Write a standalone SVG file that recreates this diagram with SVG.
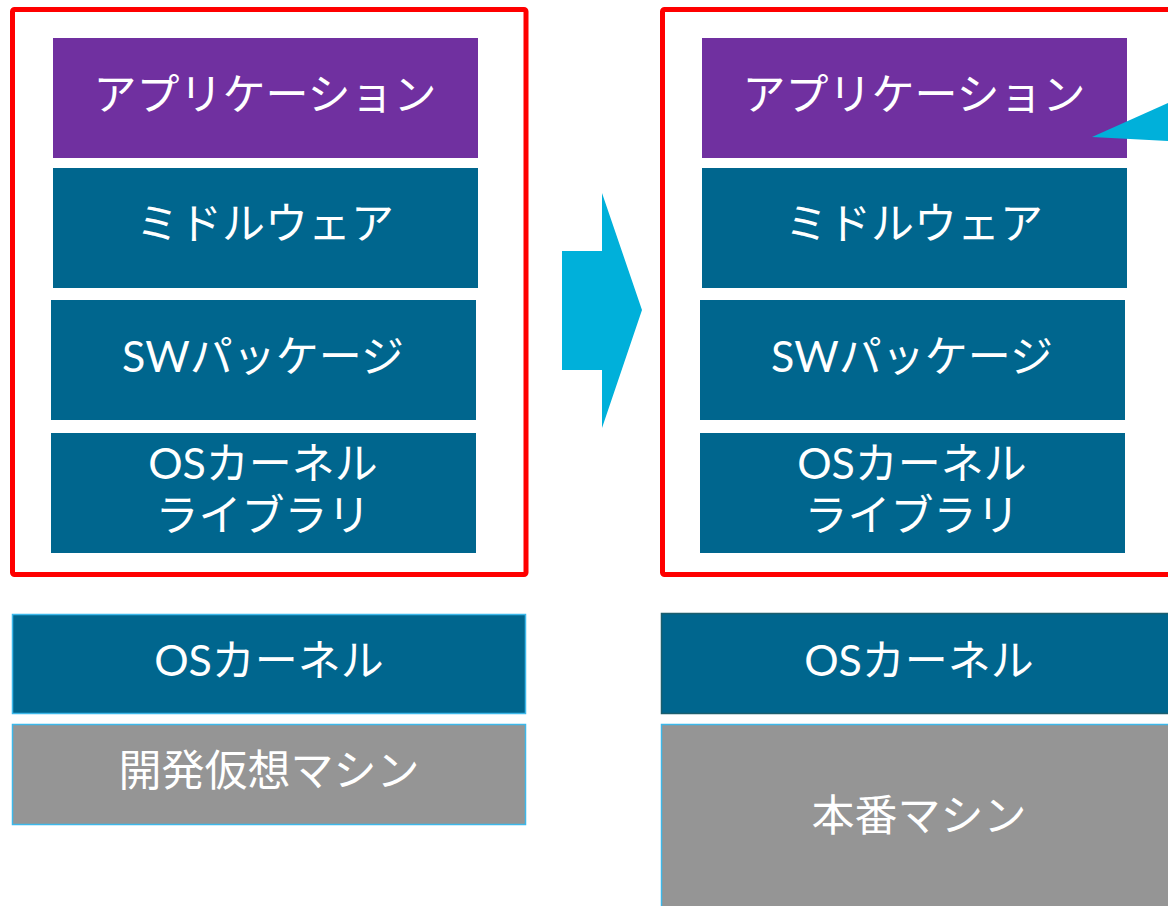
<svg xmlns="http://www.w3.org/2000/svg" width="1168" height="906" viewBox="0 0 1168 906">
<style>
.t{font-family:Lato,"Noto Sans CJK JP",sans-serif;font-size:43px;fill:#fff;text-anchor:middle;dominant-baseline:central}
.app{fill:#7030A0}
.teal{fill:#00668E}
.gray{fill:#959595}
.frame{fill:none;stroke:#FF0000;stroke-width:5}
</style>
<rect width="1168" height="906" fill="#fff"/>
<g id="frame-left"><rect class="frame" x="12.5" y="9.5" width="513.5" height="565" rx="2"/></g>
<g id="frame-right"><rect class="frame" x="662.5" y="9.5" width="520" height="565" rx="2"/></g>
<g id="app-left"><rect class="app" x="53" y="38" width="425" height="120"/><text class="t" x="265" y="93">アプリケーション</text></g>
<g id="mw-left"><rect class="teal" x="53" y="168" width="425" height="120"/><text class="t" x="265" y="222">ミドルウェア</text></g>
<g id="sw-left"><rect class="teal" x="51" y="300" width="425" height="120"/><text class="t" x="263" y="355">SWパッケージ</text></g>
<g id="lib-left"><rect class="teal" x="51" y="433" width="425" height="120"/><text class="t" x="263" y="462">OSカーネル</text><text class="t" x="263" y="514">ライブラリ</text></g>
<g id="kernel-left"><rect class="teal" x="12.5" y="614.5" width="513" height="99" stroke="#3DB8EA" stroke-width="1.5"/><text class="t" x="269" y="659">OSカーネル</text></g>
<g id="devvm"><rect class="gray" x="12.5" y="724.5" width="513" height="100" stroke="#3DB8EA" stroke-width="1.5"/><text class="t" x="269" y="769">開発仮想マシン</text></g>
<g id="app-right"><rect class="app" x="702" y="38" width="425" height="120"/><text class="t" x="914" y="93">アプリケーション</text></g>
<g id="mw-right"><rect class="teal" x="702" y="168" width="425" height="120"/><text class="t" x="914" y="222">ミドルウェア</text></g>
<g id="sw-right"><rect class="teal" x="700" y="300" width="425" height="120"/><text class="t" x="912" y="355">SWパッケージ</text></g>
<g id="lib-right"><rect class="teal" x="700" y="433" width="425" height="120"/><text class="t" x="912" y="462">OSカーネル</text><text class="t" x="912" y="514">ライブラリ</text></g>
<g id="kernel-right"><rect class="teal" x="661.5" y="613.5" width="516" height="100" stroke="#1B5E6E" stroke-width="1.5"/><text class="t" x="919" y="659">OSカーネル</text></g>
<g id="prodvm"><rect class="gray" x="661.5" y="724.5" width="516" height="190" stroke="#3DB8EA" stroke-width="1.5"/><text class="t" x="919" y="814">本番マシン</text></g>
<g id="connectors">
<polygon points="562,251 602,251 602,193 642,310 602,428 602,370 562,370" fill="#00B0DA"/>
<polygon points="1092,137 1168,103 1168,141" fill="#00B0DA"/>
</g>
</svg>
